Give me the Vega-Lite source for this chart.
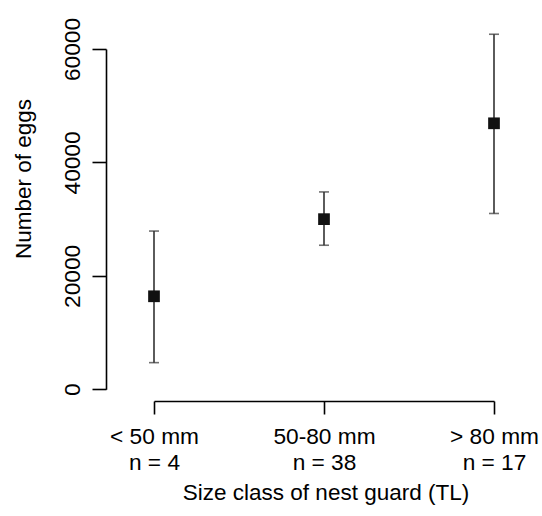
{
  "$schema": "https://vega.github.io/schema/vega-lite/v6.json",
  "width": 436,
  "height": 381,
  "autosize": {"type": "none"},
  "padding": {"left": 106, "top": 20, "right": 0, "bottom": 115},
  "background": "white",
  "config": {"view": {"stroke": null}, "font": "Liberation Sans"},
  "data": {
    "values": [
      {"cls": "< 50 mm|n = 4", "mean": 16400, "lo": 4700, "hi": 27900},
      {"cls": "50-80 mm|n = 38", "mean": 30000, "lo": 25400, "hi": 34800},
      {"cls": "> 80 mm|n = 17", "mean": 46900, "lo": 31000, "hi": 62600}
    ]
  },
  "encoding": {
    "x": {
      "field": "cls",
      "type": "nominal",
      "sort": null,
      "scale": {"type": "point", "range": [48, 388], "padding": 0},
      "axis": {
        "title": "Size class of nest guard (TL)",
        "labelExpr": "split(datum.label, '|')",
        "labelAngle": 0,
        "labelAlign": "center",
        "labelBaseline": "alphabetic",
        "labelPadding": 29.3,
        "labelLineHeight": 26.7,
        "labelFontSize": 22.7,
        "labelColor": "black",
        "labelOverlap": false,
        "labelBound": false,
        "labelFlush": false,
        "tickSize": 13,
        "tickWidth": 1.6,
        "tickColor": "black",
        "domainColor": "black",
        "domainWidth": 1.6,
        "grid": false,
        "titleFontSize": 22.5,
        "titleFontWeight": "normal",
        "titleColor": "black",
        "titleX": 219.5,
        "titleY": 98,
        "titleBaseline": "alphabetic",
        "titleAlign": "center"
      }
    }
  },
  "layer": [
    {
      "mark": {"type": "rule", "color": "#333333", "strokeWidth": 1.6, "clip": false},
      "encoding": {
        "y": {
          "field": "lo",
          "type": "quantitative",
          "title": "Number of eggs",
          "scale": {"domain": [0, 60000], "range": [369.3, 29], "nice": false, "zero": false},
          "axis": {
            "values": [0, 20000, 40000, 60000],
            "format": "d",
            "labelAngle": 270,
            "labelAlign": "center",
            "labelBaseline": "alphabetic",
            "labelPadding": 13,
            "labelFontSize": 22.7,
            "labelColor": "black",
            "labelOverlap": false,
            "labelBound": false,
            "labelFlush": false,
            "tickSize": 14,
            "tickWidth": 1.6,
            "tickColor": "black",
            "domainColor": "black",
            "domainWidth": 1.6,
            "grid": false,
            "titleFontSize": 22.5,
            "titleFontWeight": "normal",
            "titleColor": "black",
            "titleAngle": 270,
            "titleX": -76,
            "titleY": 158.5,
            "titleBaseline": "alphabetic",
            "titleAlign": "center"
          }
        },
        "y2": {"field": "hi"}
      }
    },
    {
      "mark": {"type": "tick", "orient": "horizontal", "size": 10, "thickness": 1.6, "color": "#333333", "clip": false},
      "encoding": {"y": {"field": "lo", "type": "quantitative", "title": "Number of eggs"}}
    },
    {
      "mark": {"type": "tick", "orient": "horizontal", "size": 10, "thickness": 1.6, "color": "#333333", "clip": false},
      "encoding": {"y": {"field": "hi", "type": "quantitative", "title": "Number of eggs"}}
    },
    {
      "mark": {"type": "square", "size": 137, "color": "#111111", "opacity": 1, "filled": true, "clip": false},
      "encoding": {"y": {"field": "mean", "type": "quantitative", "title": "Number of eggs"}}
    }
  ]
}
